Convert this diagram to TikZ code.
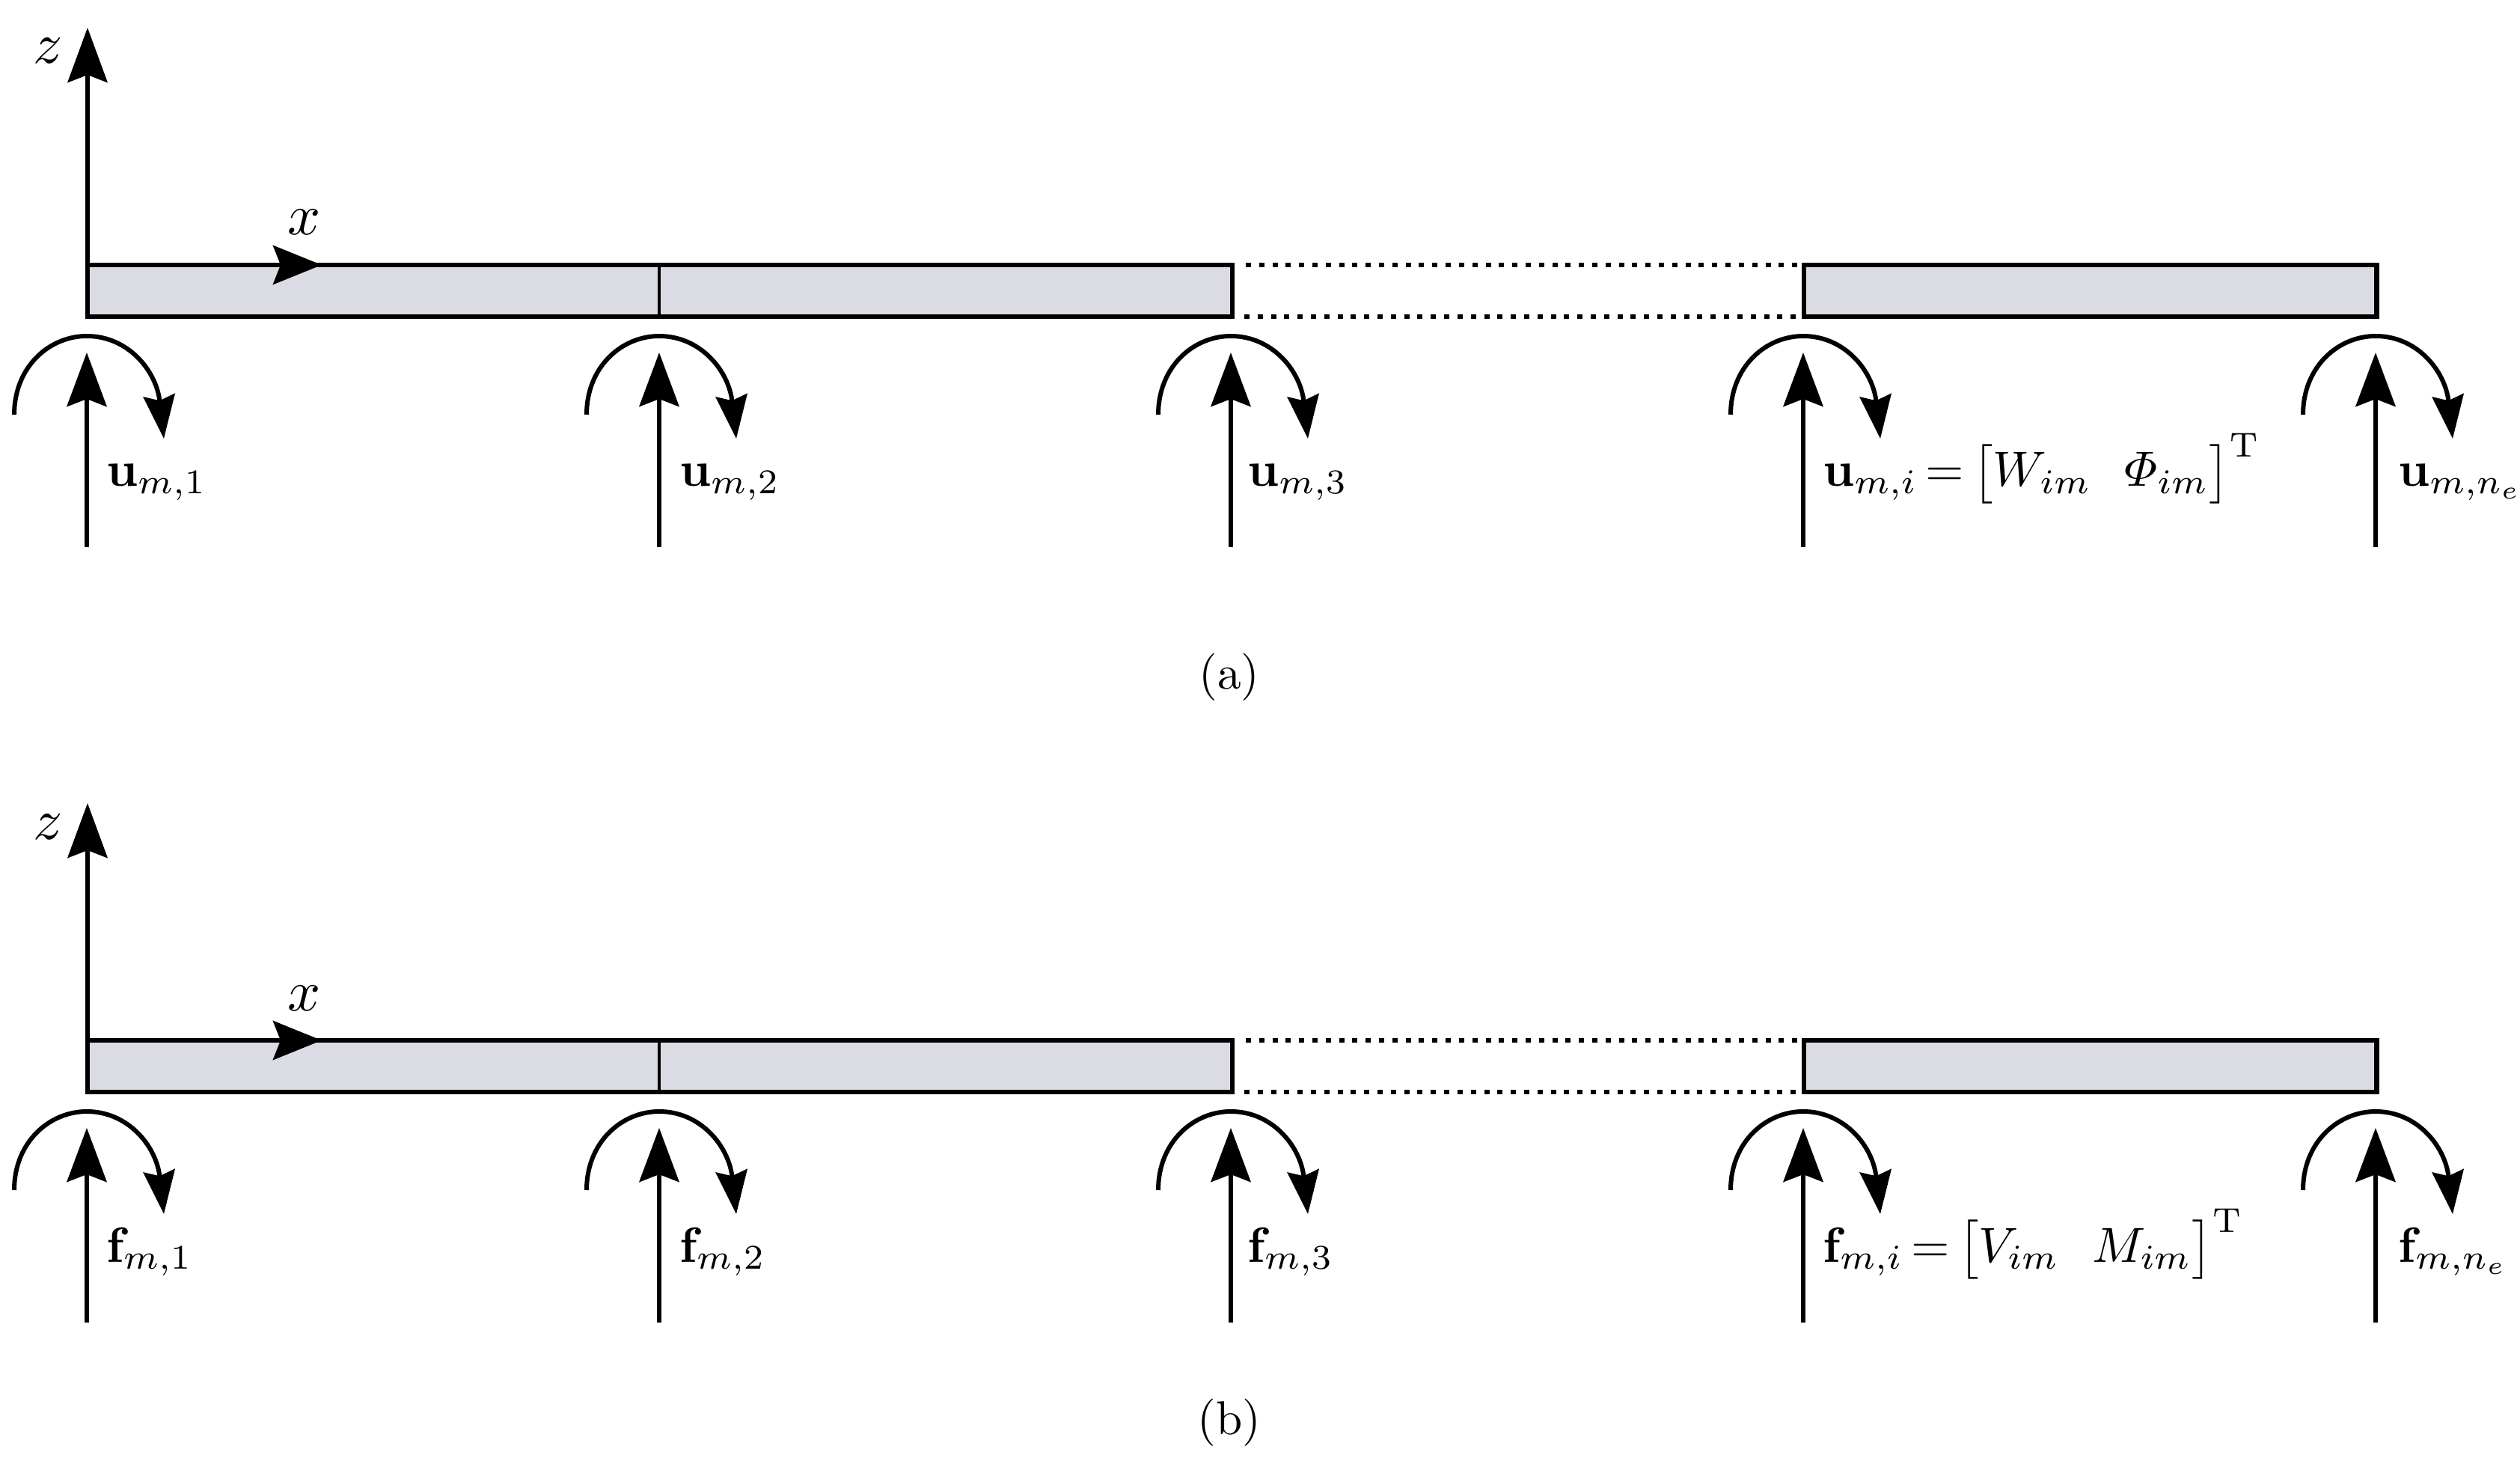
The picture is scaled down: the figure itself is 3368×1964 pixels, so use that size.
\documentclass[tikz,border=0pt]{standalone}
\usepackage{amsmath}
\usetikzlibrary{arrows.meta}
\definecolor{beamfill}{RGB}{219,219,228}
\tikzset{
  beam/.style={draw=black,line width=0.065cm,fill=beamfill},
  divider/.style={draw=black,line width=0.045cm},
  gap/.style={draw=black,line width=0.06cm,dash pattern=on 0.07cm off 0.108cm},
  axisarrow/.style={draw=black,line width=0.06cm,-{Stealth[length=0.73cm,width=0.53cm,inset=0.1cm]}},
  xarrow/.style={draw=black,line width=0.06cm,-{Stealth[length=0.65cm,width=0.52cm,inset=0.1cm]}},
  loadarrow/.style={draw=black,line width=0.06cm,-{Stealth[length=0.72cm,width=0.53cm,inset=0.1cm]}},
  momentarrow/.style={draw=black,line width=0.06cm,-{Stealth[length=0.58cm,width=0.42cm,inset=0.07cm]}},
  lab/.style={anchor=base west,inner sep=0pt,outer sep=0pt,scale=1.88},
  axislab/.style={anchor=base,inner sep=0pt,outer sep=0pt,scale=2.2},
  captionlab/.style={anchor=base,inner sep=0pt,outer sep=0pt,scale=1.8},
}
\newcommand{\loadpair}[3]{%
  \coordinate (#1b#2) at (#3,731);
  \coordinate (#1t#2) at (#3,471);
  \draw[loadarrow] (#1b#2) -- (#1t#2);
  \coordinate (#1s#2) at (#3-97,554);
  \coordinate (#1e#2) at (#3+103,586);
  \draw[momentarrow] (#1s#2) .. controls (#3-97,490) and (#3-50,449) .. (#3,449)
     .. controls (#3+55,449) and (#3+93,495) .. (#1e#2);
}
\newcommand{\beampanel}[1]{%
  \coordinate (#1o) at (117,354);
  \coordinate (#1ztip) at (117,37);
  \coordinate (#1xtip) at (430,354);
  \node[beam,minimum width=15.29cm,minimum height=0.69cm,inner sep=0pt,outer sep=0pt,anchor=north west] (#1left) at (117,354) {};
  \node[beam,minimum width=7.65cm,minimum height=0.69cm,inner sep=0pt,outer sep=0pt,anchor=north west] (#1right) at (2411,354) {};
  \draw[divider] (881,354) coordinate (#1da) -- (881,423) coordinate (#1db);
  \path (#1left.north east) ++(18,0) coordinate (#1ga);
  \path (#1left.south east) ++(16,0) coordinate (#1gb);
  \draw[gap] (#1ga) -- (#1right.north west);
  \draw[gap] (#1gb) -- (#1right.south west);
  \draw[axisarrow] (#1o) -- (#1ztip);
  \draw[xarrow] (#1o) -- (#1xtip);
  \node[axislab] (#1zl) at (64,85) {$z$};
  \node[axislab] (#1xl) at (407,314) {$x$};
  \loadpair{#1}{1}{116}
  \loadpair{#1}{2}{881}
  \loadpair{#1}{3}{1645}
  \loadpair{#1}{4}{2410}
  \loadpair{#1}{5}{3175}
}
\begin{document}
\begin{tikzpicture}[x=0.01cm,y=-0.01cm]
\useasboundingbox (0,0) rectangle (3368,1964);
\fill[white] (0,0) rectangle (3368,1964);
\beampanel{a}
\node[lab] (u1) at (142,650) {$\mathbf{u}_{m,1}$};
\node[lab] (u2) at (908,650) {$\mathbf{u}_{m,2}$};
\node[lab] (u3) at (1667,650) {$\mathbf{u}_{m,3}$};
\node[lab] (ui) at (2436,650) {$\mathbf{u}_{m,i}\,{=}\,\bigl[W_{im}\ \ \varPhi_{im}\bigr]^{\mathrm{T}}$};
\node[lab] (un) at (3205,650) {$\mathbf{u}_{m,n_e}$};
\node[captionlab] (capa) at (1643,920) {(a)};
\begin{scope}[shift={(0,1036)}]
\beampanel{b}
\node[lab] (f1) at (142,650) {$\mathbf{f}_{m,1}$};
\node[lab] (f2) at (908,650) {$\mathbf{f}_{m,2}$};
\node[lab] (f3) at (1667,650) {$\mathbf{f}_{m,3}$};
\node[lab] (fi) at (2436,650) {$\mathbf{f}_{m,i}\,{=}\,\bigl[V_{im}\ \ M_{im}\bigr]^{\mathrm{T}}$};
\node[lab] (fn) at (3205,650) {$\mathbf{f}_{m,n_e}$};
\node[captionlab] (capb) at (1643,880) {(b)};
\end{scope}
\end{tikzpicture}
\end{document}
